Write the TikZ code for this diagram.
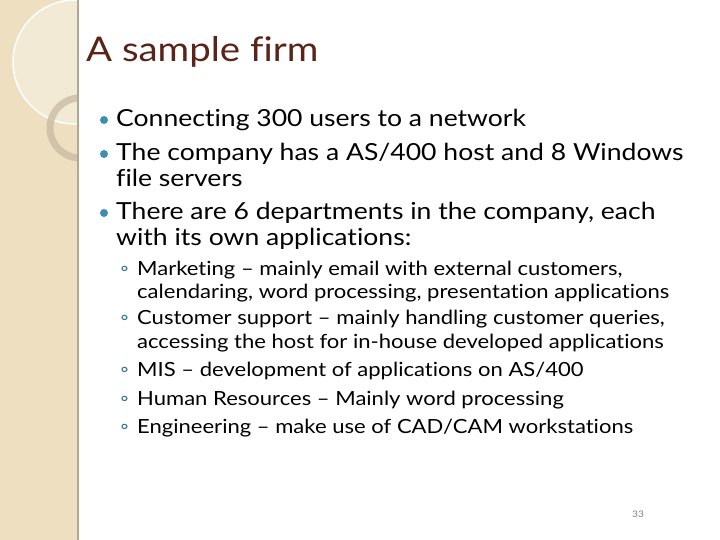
\documentclass[tikz,border=0pt]{standalone}
\usepackage{fontspec}
\setmainfont{Lato}[Ligatures={NoCommon},FakeStretch=1.13]
\definecolor{panel}{HTML}{EEDFC0}
\definecolor{titlec}{HTML}{5A2418}
\definecolor{bul}{HTML}{3D8FB0}
\begin{document}
\begin{tikzpicture}[x=1pt,y=1pt,
  txt/.style={anchor=base west,inner sep=0pt,font=\fontsize{23.5}{27}\selectfont},
  sub/.style={anchor=base west,inner sep=0pt,font=\fontsize{19.5}{23}\selectfont},
  dot/.style={circle,fill=bul,inner sep=0pt,minimum size=8pt}]
\useasboundingbox (0,0) rectangle (720,540);
\fill[white] (0,0) rectangle (720,540);
\fill[panel] (0,0) rectangle (77,540);
\begin{scope}
\clip (0,0) rectangle (77,540);
\fill[white,opacity=0.35] (75,478) circle (62);
\draw[white,line width=1.5pt] (75,478) circle (62);
\draw[black!15!panel,line width=7pt,opacity=0.8] (80,412) circle (30);
\end{scope}
\draw[black!25!panel,line width=1.2pt] (78,0) -- (78,540);
\node[anchor=base west,inner sep=0pt,text=titlec,font=\fontsize{34}{36}\selectfont] (title) at (86,478) {A sample firm};
\node[dot] (d1) at (104,420) {};
\node[txt] (b1) at (116,413) {Connecting 300 users to a network};
\node[dot] (d2) at (104,386) {};
\node[txt] (b2) at (116,379) {The company has a AS/400 host and 8 Windows};
\node[txt] (b2b) at (116,353) {file servers};
\node[dot] (d3) at (104,327) {};
\node[txt] (b3) at (116,320) {There are 6 departments in the company, each};
\node[txt] (b3b) at (116,294) {with its own applications:};
\foreach \n/\y/\t in {s1/264/{Marketing – mainly email with external customers,},
  s2/215/{Customer support – mainly handling customer queries,},
  s3/163/{MIS – development of applications on AS/400},
  s4/134/{Human Resources – Mainly word processing},
  s5/106/{Engineering – make use of CAD/CAM workstations}}{
  \node[sub,text=bul!80!black] (c\n) at (120,\y) {◦};
  \node[sub] (\n) at (137,\y) {\t};
}
\node[sub] (s1b) at (137,241) {calendaring, word processing, presentation applications};
\node[sub] (s2b) at (137,191) {accessing the host for in-house developed applications};
\node[anchor=base west,inner sep=0pt,text=black!50,font=\fontsize{9}{10}\selectfont] (pg) at (632,22) {33};
\end{tikzpicture}
\end{document}
